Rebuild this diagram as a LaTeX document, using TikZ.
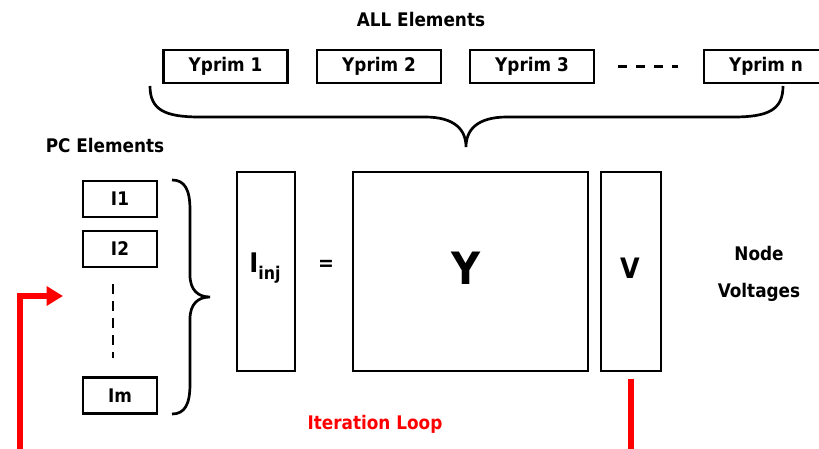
\documentclass[tikz,border=0pt]{standalone}
\usepackage{fontspec}
\setmainfont{DejaVu Sans Condensed}
\usetikzlibrary{arrows.meta}
\begin{document}
\begin{tikzpicture}[x=0.03cm, y=-0.03cm, line width=2.3pt,
    lbl/.style={font=\bfseries\fontsize{16}{19}\selectfont},
    ybox/.style={draw, lbl, minimum width=3.72cm, minimum height=0.99cm, inner sep=0pt},
    ibox/.style={draw, lbl, minimum width=2.22cm, minimum height=1.08cm, inner sep=0pt},
    mat/.style={draw, minimum height=5.97cm, inner sep=0pt},
    loopline/.style={red, line width=4.3pt, -{Triangle[length=14pt, width=16pt]}}]
    \useasboundingbox (0,0) rectangle (819,448);

    % Top: primitive admittances of all elements
    \node[lbl] (allel) at (421,20) {ALL Elements};
    \node[ybox] (yp1) at (225.5,66.5) {Yprim 1};
    \node[ybox] (yp2) at (379,66.5) {Yprim 2};
    \node[ybox] (yp3) at (532,66.5) {Yprim 3};
    \node[ybox] (ypn) at (766,66.5) {Yprim n};
    \draw[line width=2.6pt, dash pattern=on 7.7pt off 7.7pt, shorten <=0.69cm, shorten >=0.75cm] (yp3.east) -- (ypn.west);

    \draw (150,86) .. controls (150,110) and (165,117) .. (200,117) -- (425,117)
        .. controls (455,117) and (466,130) .. (466,147)
        .. controls (466,130) and (477,117) .. (507,117) -- (733,117)
        .. controls (768,117) and (783,110) .. (783,86);

    % Left: current sources of PC elements
    \node[lbl] (pcel) at (105,146) {PC Elements};
    \node[ibox] (i1) at (120,199) {I1};
    \node[ibox] (i2) at (120,249) {I2};
    \node[ibox] (im) at (120,395.5) {Im};
    \draw[line width=2pt, dash pattern=on 8.5pt off 6pt, shorten <=0.48cm, shorten >=0.54cm] (i2.south -| 113,0) -- (im.north -| 113,0);

    \draw (172,180) .. controls (185,180) and (190,190) .. (190,210) -- (190,275)
        .. controls (190,290) and (198,297) .. (210,297)
        .. controls (198,297) and (190,304) .. (190,319) -- (190,384)
        .. controls (190,404) and (185,414) .. (172,414);

    % Middle: nodal equation
    \node[mat, minimum width=1.74cm] (iinj) at (266,271.5) {};
    \node (iinjtxt) at (265,268) {\bfseries\fontsize{23}{26}\selectfont I\raisebox{-0.45ex}{\fontsize{15}{17}\selectfont inj}};
    \node[lbl, font=\bfseries\fontsize{18}{20}\selectfont] (eq) at (326,265) {=};
    \node[mat, minimum width=7.05cm] (ybus) at (470.5,271.5) {};
    \node (ytxt) at (466,268) {\bfseries\fontsize{38}{42}\selectfont Y};
    \node[mat, minimum width=1.8cm] (vbox) at (631,271.5) {};
    \node (vtxt) at (630,268) {\bfseries\fontsize{24}{26}\selectfont V};
    \node[lbl, align=center, font=\bfseries\fontsize{16}{31}\selectfont] (nodev) at (759,274) {Node\\Voltages};

    % Bottom: iteration loop
    \coordinate (loopA) at (631,453);
    \coordinate (loopB) at (20,453);
    \coordinate (loopC) at (20,296);
    \coordinate (loopend) at (63,296);
    \draw[loopline] ([yshift=-0.21cm]vbox.south) -- (loopA) -- (loopB) -- (loopC) -- (loopend);
    \node[lbl, text=red] (iterl) at (375,424) {Iteration Loop};
\end{tikzpicture}
\end{document}
